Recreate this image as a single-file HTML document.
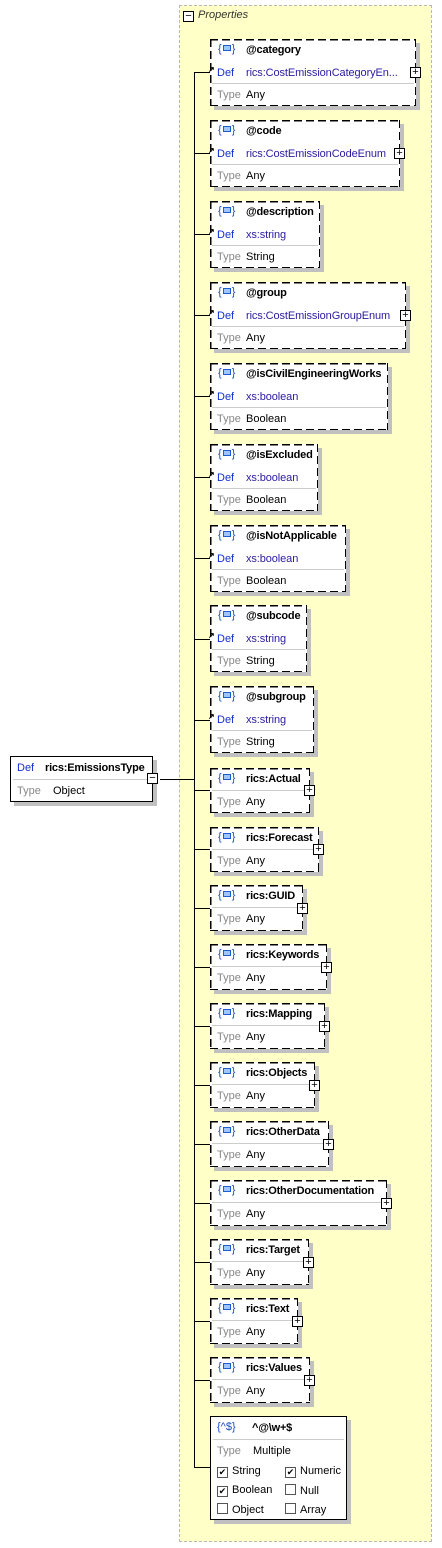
<!DOCTYPE html>
<html><head><meta charset="utf-8"><style>
*{margin:0;padding:0;box-sizing:border-box}
body{width:442px;height:1548px;background:#fff;position:relative;font-family:"Liberation Sans",sans-serif;font-size:11px;color:#000;overflow:hidden}
.yel{position:absolute;left:179px;top:5px;width:253px;height:1537px;background:#ffffc8;border:1px dashed #b8b8b8}
.box{position:absolute;background:#fff;box-shadow:4px 4px 0 #c0c0c0}
.box::before{content:"";position:absolute;left:0;top:0;right:0;bottom:0;pointer-events:none;
background:repeating-linear-gradient(90deg,#000 0 8px,transparent 8px 12px) left top/100% 1.5px no-repeat,
repeating-linear-gradient(90deg,#000 0 8px,transparent 8px 12px) left bottom/100% 1.5px no-repeat,
repeating-linear-gradient(180deg,#000 0 8px,transparent 8px 12px) left top/1.5px 100% no-repeat,
repeating-linear-gradient(180deg,#000 0 8px,transparent 8px 12px) right top/1.5px 100% no-repeat}
.box.solid::before{display:none}
.box.solid{border:1px solid #000}
.box span{position:absolute;white-space:nowrap}
.box span.cb{position:static}
.ic{left:8px;top:1px;color:#1a4fc0;font-size:11px}
.ic i{display:inline-block;width:8px;height:6px;border:1px solid #1a5fd0;background:#9cc8ff;margin:0 1px;vertical-align:1px}
.nm{left:36px;font-weight:bold;font-size:11px;letter-spacing:-0.2px}
.df{left:7px;color:#1030d0}
.dv{left:36px;color:#2a1aa0;letter-spacing:-0.1px}
.tl{left:7px;color:#888}
.tv{left:36px}
.sep{position:absolute;left:2px;right:2px;height:1px;background:#ccc}
.pl{position:absolute;width:11px;height:11px;border:1px solid #000;background:#fff;font-size:11px;line-height:8px;text-align:center}
.ln{position:absolute;background:#000}
.ar{position:absolute;left:-2px;font-size:8px;font-weight:bold}
.cb{display:inline-block;width:11px;height:11px;border:1px solid #555;font-size:9px;line-height:9px;text-align:center;margin-right:4px;vertical-align:-1px}
</style></head><body>
<div class="yel"></div>
<div class="pl" style="left:183px;top:11px">−</div>
<span style="position:absolute;left:198px;top:9px;font-style:italic;color:#333;font-size:11px">Properties</span>

<div class="ln" style="left:194px;top:72px;width:1px;height:1396px"></div>
<div class="ln" style="left:160px;top:779px;width:34px;height:1px"></div>

<div class="box solid" style="left:10px;top:756px;width:143px;height:46px">
<span class="df" style="left:6px;top:5px">Def</span><span class="nm" style="left:34px;top:5px">rics:EmissionsType</span>
<div class="sep" style="top:22px"></div>
<span class="tl" style="left:6px;top:28px">Type</span><span class="tv" style="left:42px;top:28px">Object</span>
</div>
<div class="pl" style="left:147px;top:773px">−</div>

<div class="ln" style="left:194px;top:72px;width:16px;height:1px"></div>
<div class="box" style="left:210px;top:39px;width:206px;height:67px"><span class="ic" style="top:4px">{<i></i>}</span><span class="nm" style="top:5px">@category</span><span class="ar" style="top:26px">↗</span><span class="df" style="top:28px">Def</span><span class="dv" style="top:28px">rics:CostEmissionCategoryEn...</span><div class="sep" style="top:44px"></div><span class="tl" style="top:50px">Type</span><span class="tv" style="top:50px">Any</span></div>
<div class="pl" style="left:410px;top:67px">+</div>

<div class="ln" style="left:194px;top:153px;width:16px;height:1px"></div>
<div class="box" style="left:210px;top:120px;width:190px;height:67px"><span class="ic" style="top:4px">{<i></i>}</span><span class="nm" style="top:5px">@code</span><span class="ar" style="top:26px">↗</span><span class="df" style="top:28px">Def</span><span class="dv" style="top:28px">rics:CostEmissionCodeEnum</span><div class="sep" style="top:44px"></div><span class="tl" style="top:50px">Type</span><span class="tv" style="top:50px">Any</span></div>
<div class="pl" style="left:394px;top:148px">+</div>

<div class="ln" style="left:194px;top:234px;width:16px;height:1px"></div>
<div class="box" style="left:210px;top:201px;width:110px;height:67px"><span class="ic" style="top:4px">{<i></i>}</span><span class="nm" style="top:5px">@description</span><span class="ar" style="top:26px">↗</span><span class="df" style="top:28px">Def</span><span class="dv" style="top:28px">xs:string</span><div class="sep" style="top:44px"></div><span class="tl" style="top:50px">Type</span><span class="tv" style="top:50px">String</span></div>

<div class="ln" style="left:194px;top:315px;width:16px;height:1px"></div>
<div class="box" style="left:210px;top:282px;width:196px;height:67px"><span class="ic" style="top:4px">{<i></i>}</span><span class="nm" style="top:5px">@group</span><span class="ar" style="top:26px">↗</span><span class="df" style="top:28px">Def</span><span class="dv" style="top:28px">rics:CostEmissionGroupEnum</span><div class="sep" style="top:44px"></div><span class="tl" style="top:50px">Type</span><span class="tv" style="top:50px">Any</span></div>
<div class="pl" style="left:400px;top:310px">+</div>

<div class="ln" style="left:194px;top:396px;width:16px;height:1px"></div>
<div class="box" style="left:210px;top:363px;width:178px;height:67px"><span class="ic" style="top:4px">{<i></i>}</span><span class="nm" style="top:5px">@isCivilEngineeringWorks</span><span class="ar" style="top:26px">↗</span><span class="df" style="top:28px">Def</span><span class="dv" style="top:28px">xs:boolean</span><div class="sep" style="top:44px"></div><span class="tl" style="top:50px">Type</span><span class="tv" style="top:50px">Boolean</span></div>

<div class="ln" style="left:194px;top:477px;width:16px;height:1px"></div>
<div class="box" style="left:210px;top:444px;width:108px;height:67px"><span class="ic" style="top:4px">{<i></i>}</span><span class="nm" style="top:5px">@isExcluded</span><span class="ar" style="top:26px">↗</span><span class="df" style="top:28px">Def</span><span class="dv" style="top:28px">xs:boolean</span><div class="sep" style="top:44px"></div><span class="tl" style="top:50px">Type</span><span class="tv" style="top:50px">Boolean</span></div>

<div class="ln" style="left:194px;top:558px;width:16px;height:1px"></div>
<div class="box" style="left:210px;top:525px;width:136px;height:67px"><span class="ic" style="top:4px">{<i></i>}</span><span class="nm" style="top:5px">@isNotApplicable</span><span class="ar" style="top:26px">↗</span><span class="df" style="top:28px">Def</span><span class="dv" style="top:28px">xs:boolean</span><div class="sep" style="top:44px"></div><span class="tl" style="top:50px">Type</span><span class="tv" style="top:50px">Boolean</span></div>

<div class="ln" style="left:194px;top:639px;width:16px;height:1px"></div>
<div class="box" style="left:210px;top:605px;width:97px;height:67px"><span class="ic" style="top:4px">{<i></i>}</span><span class="nm" style="top:5px">@subcode</span><span class="ar" style="top:26px">↗</span><span class="df" style="top:28px">Def</span><span class="dv" style="top:28px">xs:string</span><div class="sep" style="top:44px"></div><span class="tl" style="top:50px">Type</span><span class="tv" style="top:50px">String</span></div>

<div class="ln" style="left:194px;top:720px;width:16px;height:1px"></div>
<div class="box" style="left:210px;top:686px;width:104px;height:67px"><span class="ic" style="top:4px">{<i></i>}</span><span class="nm" style="top:5px">@subgroup</span><span class="ar" style="top:26px">↗</span><span class="df" style="top:28px">Def</span><span class="dv" style="top:28px">xs:string</span><div class="sep" style="top:44px"></div><span class="tl" style="top:50px">Type</span><span class="tv" style="top:50px">String</span></div>

<div class="ln" style="left:194px;top:790px;width:16px;height:1px"></div>
<div class="box" style="left:210px;top:768px;width:100px;height:45px"><span class="ic" style="top:4px">{<i></i>}</span><span class="nm" style="top:5px">rics:Actual</span><div class="sep" style="top:22px"></div><span class="tl" style="top:28px">Type</span><span class="tv" style="top:28px">Any</span></div>
<div class="pl" style="left:304px;top:785px">+</div>

<div class="ln" style="left:194px;top:849px;width:16px;height:1px"></div>
<div class="box" style="left:210px;top:827px;width:109px;height:45px"><span class="ic" style="top:4px">{<i></i>}</span><span class="nm" style="top:5px">rics:Forecast</span><div class="sep" style="top:22px"></div><span class="tl" style="top:28px">Type</span><span class="tv" style="top:28px">Any</span></div>
<div class="pl" style="left:313px;top:844px">+</div>

<div class="ln" style="left:194px;top:908px;width:16px;height:1px"></div>
<div class="box" style="left:210px;top:885px;width:93px;height:46px"><span class="ic" style="top:4px">{<i></i>}</span><span class="nm" style="top:5px">rics:GUID</span><div class="sep" style="top:22px"></div><span class="tl" style="top:28px">Type</span><span class="tv" style="top:28px">Any</span></div>
<div class="pl" style="left:297px;top:903px">+</div>

<div class="ln" style="left:194px;top:967px;width:16px;height:1px"></div>
<div class="box" style="left:210px;top:944px;width:117px;height:46px"><span class="ic" style="top:4px">{<i></i>}</span><span class="nm" style="top:5px">rics:Keywords</span><div class="sep" style="top:22px"></div><span class="tl" style="top:28px">Type</span><span class="tv" style="top:28px">Any</span></div>
<div class="pl" style="left:321px;top:962px">+</div>

<div class="ln" style="left:194px;top:1026px;width:16px;height:1px"></div>
<div class="box" style="left:210px;top:1003px;width:115px;height:46px"><span class="ic" style="top:4px">{<i></i>}</span><span class="nm" style="top:5px">rics:Mapping</span><div class="sep" style="top:22px"></div><span class="tl" style="top:28px">Type</span><span class="tv" style="top:28px">Any</span></div>
<div class="pl" style="left:319px;top:1021px">+</div>

<div class="ln" style="left:194px;top:1085px;width:16px;height:1px"></div>
<div class="box" style="left:210px;top:1062px;width:105px;height:46px"><span class="ic" style="top:4px">{<i></i>}</span><span class="nm" style="top:5px">rics:Objects</span><div class="sep" style="top:22px"></div><span class="tl" style="top:28px">Type</span><span class="tv" style="top:28px">Any</span></div>
<div class="pl" style="left:309px;top:1080px">+</div>

<div class="ln" style="left:194px;top:1144px;width:16px;height:1px"></div>
<div class="box" style="left:210px;top:1121px;width:119px;height:46px"><span class="ic" style="top:4px">{<i></i>}</span><span class="nm" style="top:5px">rics:OtherData</span><div class="sep" style="top:22px"></div><span class="tl" style="top:28px">Type</span><span class="tv" style="top:28px">Any</span></div>
<div class="pl" style="left:323px;top:1139px">+</div>

<div class="ln" style="left:194px;top:1203px;width:16px;height:1px"></div>
<div class="box" style="left:210px;top:1180px;width:177px;height:46px"><span class="ic" style="top:4px">{<i></i>}</span><span class="nm" style="top:5px">rics:OtherDocumentation</span><div class="sep" style="top:22px"></div><span class="tl" style="top:28px">Type</span><span class="tv" style="top:28px">Any</span></div>
<div class="pl" style="left:381px;top:1198px">+</div>

<div class="ln" style="left:194px;top:1262px;width:16px;height:1px"></div>
<div class="box" style="left:210px;top:1239px;width:99px;height:46px"><span class="ic" style="top:4px">{<i></i>}</span><span class="nm" style="top:5px">rics:Target</span><div class="sep" style="top:22px"></div><span class="tl" style="top:28px">Type</span><span class="tv" style="top:28px">Any</span></div>
<div class="pl" style="left:303px;top:1257px">+</div>

<div class="ln" style="left:194px;top:1321px;width:16px;height:1px"></div>
<div class="box" style="left:210px;top:1298px;width:88px;height:46px"><span class="ic" style="top:4px">{<i></i>}</span><span class="nm" style="top:5px">rics:Text</span><div class="sep" style="top:22px"></div><span class="tl" style="top:28px">Type</span><span class="tv" style="top:28px">Any</span></div>
<div class="pl" style="left:292px;top:1316px">+</div>

<div class="ln" style="left:194px;top:1380px;width:16px;height:1px"></div>
<div class="box" style="left:210px;top:1357px;width:100px;height:46px"><span class="ic" style="top:4px">{<i></i>}</span><span class="nm" style="top:5px">rics:Values</span><div class="sep" style="top:22px"></div><span class="tl" style="top:28px">Type</span><span class="tv" style="top:28px">Any</span></div>
<div class="pl" style="left:304px;top:1375px">+</div>

<div class="ln" style="left:194px;top:1467px;width:16px;height:1px"></div>
<div class="box solid" style="left:210px;top:1416px;width:137px;height:104px">
<span class="ic" style="left:6px;top:4px;color:#1a4fc0">{^$}</span><span class="nm" style="left:41px;top:5px">^@\w+$</span>
<div class="sep" style="top:22px"></div>
<span class="tl" style="left:6px;top:28px">Type</span><span class="tv" style="left:42px;top:28px">Multiple</span>
<span style="left:6px;top:48px"><span class="cb">✔</span>String</span><span style="left:74px;top:48px"><span class="cb">✔</span>Numeric</span>
<span style="left:6px;top:67px"><span class="cb">✔</span>Boolean</span><span style="left:74px;top:67px"><span class="cb"></span>Null</span>
<span style="left:6px;top:86px"><span class="cb"></span>Object</span><span style="left:74px;top:86px"><span class="cb"></span>Array</span>
</div>
</body></html>
